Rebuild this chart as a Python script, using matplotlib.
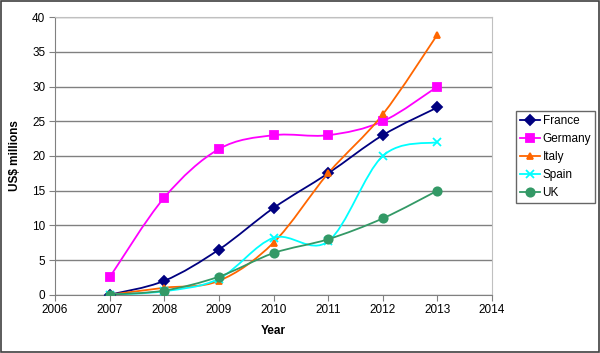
import numpy as np
import matplotlib.pyplot as plt
from matplotlib.path import Path
from matplotlib.patches import PathPatch
from matplotlib.lines import Line2D

plt.rcParams['font.family'] = ['Liberation Sans', 'DejaVu Sans']

years = [2007, 2008, 2009, 2010, 2011, 2012, 2013]
france = [0, 2, 6.5, 12.5, 17.5, 23, 27]
germany = [2.5, 14, 21, 23, 23, 25, 30]
italy = [0, 1, 2, 7.5, 17.5, 26, 37.5]
spain = [0, 0.5, 2.3, 8.2, 7.7, 20, 22]
uk = [0, 0.6, 2.6, 6, 8, 11, 15]

series = [
    ('France', france, '#000080', 'D', 5),
    ('Germany', germany, '#FF00FF', 's', 6),
    ('Italy', italy, '#FF6600', '^', 5),
    ('Spain', spain, '#00FFFF', 'x', 6),
    ('UK', uk, '#339966', 'o', 6),
]


def smooth_path(x, y):
    # Excel-style smoothed line: cubic Bezier through the points
    pts = np.column_stack([x, y]).astype(float)
    n = len(pts)
    verts = [pts[0]]
    codes = [Path.MOVETO]
    for i in range(n - 1):
        p0 = pts[i - 1] if i > 0 else pts[i]
        p1 = pts[i]
        p2 = pts[i + 1]
        p3 = pts[i + 2] if i + 2 < n else pts[i + 1]
        c1 = p1 + (p2 - p0) / 6.0
        c2 = p2 - (p3 - p1) / 6.0
        verts += [c1, c2, p2]
        codes += [Path.CURVE4] * 3
    return Path(verts, codes)


fig = plt.figure(figsize=(6, 3.53), dpi=100)
fig.patches.append(plt.Rectangle((0.002, 0.003), 0.996, 0.994, transform=fig.transFigure,
                                 fill=False, edgecolor='#404040', lw=1.2))
ax = fig.add_axes([55 / 600, 1 - 294.7 / 353, (492 - 55) / 600, (294.7 - 17.3) / 353])

handles = []
for name, vals, col, mk, ms in series:
    ax.add_patch(PathPatch(smooth_path(years, vals), fill=False, edgecolor=col, lw=1.3, zorder=3))
    ax.plot(years, vals, linestyle='none', marker=mk, color=col, ms=ms, mew=1.3, zorder=4)
    handles.append(Line2D([], [], color=col, marker=mk, ms=ms, mew=1.3, lw=1.3, label=name))

ax.set_xlim(2006, 2014)
ax.set_ylim(0, 40)
ax.set_xticks(range(2006, 2015))
ax.set_yticks(range(0, 41, 5))
ax.yaxis.grid(True, color='#808080', lw=1)
ax.set_axisbelow(True)
for s in ['left', 'bottom']:
    ax.spines[s].set_color('#808080')
for s in ['top', 'right']:
    ax.spines[s].set_color('#c0c0c0')
ax.tick_params(direction='out', length=4, color='#808080', labelsize=8.5, pad=3)
ax.set_xlabel('Year', fontsize=8.5, fontweight='bold', labelpad=6)
ax.set_ylabel('US$ millions', fontsize=8.5, fontweight='bold', labelpad=8)

leg = fig.legend(handles=handles, loc='upper left', bbox_to_anchor=(516 / 600, 1 - 111 / 353),
                 borderaxespad=0, fontsize=8.5, frameon=True, fancybox=False,
                 edgecolor='#404040', handlelength=1.7, borderpad=0.35,
                 labelspacing=0.5, handletextpad=0.2)
leg.get_frame().set_linewidth(1)

fig.savefig('out.png', dpi=100)
